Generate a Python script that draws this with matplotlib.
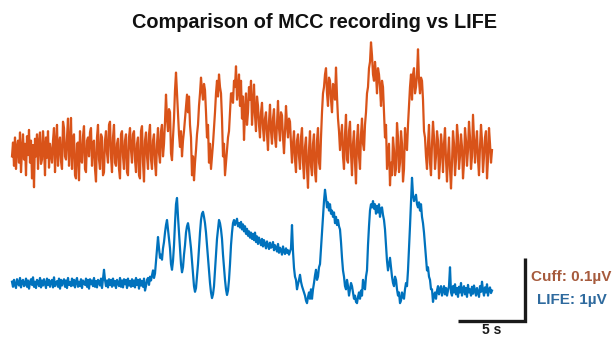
import numpy as np
import matplotlib
matplotlib.use("Agg")
import matplotlib.pyplot as plt

plt.rcParams['font.family'] = ['Liberation Sans', 'DejaVu Sans']

# Sample interval of both recordings (s)
dt = 0.075

# Cuff (MCC) recording, nV
cuff_nv = [
    -10, 12, -25, 20, -30, 5, 15, -20, 28, -35, 0, 25, -15, 10, -40, 22, -8, 32, -20, 15,
    -45, 8, -59, 18, -10, 25, -30, 12, 28, -22, -15, 30, 5, -40, 20, -12, 30, -28, 10, -5,
    -20, 15, 35, -35, 8, 40, -25, 10, 20, -18, -30, 45, 35, -10, -15, 20, 50, -25, 5, 51,
    -30, 18, 25, -40, -45, 10, 12, -48, 30, -15, -20, 22, 38, -30, -35, 15, 20, -10, 28, 35,
    -25, 10, 15, -30, -50, 20, 40, -15, -30, 25, 20, -40, -35, 15, 30, -5, -20, 40, 45, -10,
    -35, 20, 40, -20, -25, 10, 18, -30, -45, 25, 30, -10, -30, 15, 25, -35, -40, 20, 35, 0,
    -20, 25, 30, -15, -35, 10, 20, -40, -45, 30, 38, -20, -50, 15, 28, -10, -30, 25, 40, -15,
    -30, 15, 25, -20, -40, 10, 35, -5, -20, 30, 40, -10, 10, 45, 88, 50, 30, 65, 60, -5,
    -16, 20, 50, 95, 123, 90, 60, 25, 5, 30, -10, 15, 30, 50, 70, 88, 60, 85, 40, 20,
    -40, -10, -48, -20, 0, 25, 40, 70, 90, 115, 95, 80, 105, 95, 60, 20, 40, -20, 10, -30,
    -10, 10, 35, 60, 90, 110, 85, 120, 100, 90, 50, -10, 10, -40, -20, 0, 20, 30, 60, 90,
    90, 75, 110, 100, 133, 80, 95, 120, 70, 110, 50, 85, 16, 60, 90, 40, 60, 100, 80, 110,
    40, 70, 104, 55, 30, 85, 70, 40, 20, 60, 75, 35, 15, 50, 60, 25, 0, 45, 72, 30,
    10, 50, 65, 20, 5, 40, 78, 35, 15, 60, 55, 20, -5, 30, 70, 40, 20, 50, 45, 10,
    -20, 10, 30, -15, -35, 15, 25, -10, -30, 20, 35, -20, -45, 5, 20, -30, -60, 0, 30, -25,
    -40, 10, 25, -35, -50, 15, 35, -20, -30, 20, 60, 90, 100, 120, 130, 90, 70, 115, 110, 80,
    60, 105, 100, 80, 131, 85, 50, 30, 0, 20, 40, -10, -30, 25, 56, -15, -20, 30, 45, -5,
    -40, 10, 30, -20, -53, 15, 40, -10, -30, 25, 50, 10, 0, 40, 60, 90, 100, 130, 140, 171,
    150, 120, 110, 140, 120, 90, 130, 120, 100, 70, 110, 100, 60, 20, 40, -30, -10, 10, -56, -20,
    -40, 20, 0, -40, -30, 43, 20, -35, -20, 30, 10, -50, -30, 35, 10, 0, 40, 70, 100, 120,
    80, 120, 130, 90, 100, 120, 160, 110, 90, 115, 110, 80, 30, 20, -10, -30, 10, 40, -20, -40,
    10, 45, 20, -30, -10, 30, 15, -45, -20, 25, 5, -35, 10, 35, -15, -50, -10, 20, -30, -61,
    -20, 30, 10, -40, -15, 40, 20, -30, -10, 25, 5, -45, -20, 35, 15, -25, 0, 45, 20, -30,
    -10, 56, 20, -20, 10, 30, -15, -40, 5, 40, 15, -35, -10, 20, 30, -45, -15, 35, 10, -20,
    0,
]

# LIFE recording, µV
life_uv = [
    0.02, -0.06, 0.05, -0.03, -0.08, 0.06, 0.00, -0.04, 0.08, -0.07, 0.03, 0.05, -0.05, -0.02, 0.07, -0.06, 0.04, -0.09, 0.01, 0.06,
    -0.03, 0.09, -0.06, 0.02, -0.08, 0.05, 0.03, -0.05, 0.08, -0.07, 0.04, -0.04, 0.06, -0.01, -0.08, 0.07, -0.03, 0.05, -0.06, 0.02,
    0.05, -0.07, 0.09, -0.05, 0.00, 0.03, -0.06, 0.07, -0.09, 0.05, -0.04, 0.02, 0.06, -0.06, 0.04, -0.08, 0.08, -0.03, 0.01, -0.05,
    0.07, -0.04, 0.05, -0.07, 0.03, 0.08, -0.06, 0.02, -0.05, 0.06, -0.08, 0.04, 0.00, -0.03, 0.07, -0.06, 0.05, -0.09, 0.06, -0.02,
    0.04, -0.05, 0.08, -0.06, 0.03, -0.07, 0.05, 0.02, -0.04, 0.07, -0.08, 0.06, 0.21, 0.05, -0.05, 0.04, -0.07, 0.06, -0.03, 0.05,
    -0.06, 0.07, -0.04, 0.03, -0.08, 0.05, 0.00, -0.05, 0.08, -0.06, 0.04, -0.07, 0.06, -0.02, 0.05, -0.08, 0.07, -0.04, 0.03, -0.06,
    0.06, -0.05, 0.04, -0.07, 0.08, -0.03, 0.05, -0.09, 0.06, -0.04, 0.03, -0.06, 0.07, -0.12, -0.05, 0.05, 0.08, -0.03, 0.10, 0.04,
    0.12, 0.20, 0.08, 0.15, 0.35, 0.55, 0.73, 0.55, 0.40, 0.45, 0.37, 0.55, 0.65, 0.80, 0.92, 1.00, 0.85, 0.70, 0.55, 0.30,
    0.21, 0.35, 0.60, 0.95, 1.25, 1.35, 1.05, 0.80, 0.55, 0.30, 0.17, 0.25, 0.45, 0.60, 0.80, 0.90, 0.95, 0.85, 0.70, 0.55,
    0.35, 0.15, -0.05, -0.14, -0.08, 0.10, 0.30, 0.55, 0.80, 1.00, 1.10, 1.13, 1.05, 0.95, 0.80, 0.60, 0.40, 0.20, 0.00, -0.15,
    -0.24, -0.18, -0.05, 0.20, 0.45, 0.70, 0.85, 1.00, 0.95, 0.85, 0.70, 0.45, 0.25, 0.05, -0.10, -0.19, -0.12, 0.05, 0.30, 0.60,
    0.80, 0.95, 1.00, 0.92, 0.97, 1.02, 0.90, 0.95, 0.88, 0.97, 0.85, 0.93, 0.82, 0.90, 0.78, 0.86, 0.75, 0.82, 0.72, 0.80,
    0.70, 0.78, 0.68, 0.80, 0.65, 0.74, 0.62, 0.72, 0.66, 0.60, 0.70, 0.58, 0.68, 0.62, 0.55, 0.66, 0.60, 0.54, 0.64, 0.56,
    0.58, 0.65, 0.52, 0.60, 0.56, 0.50, 0.62, 0.48, 0.56, 0.52, 0.45, 0.58, 0.50, 0.46, 0.55, 0.48, 0.52, 0.45, 0.50, 0.55,
    0.92, 0.50, 0.24, 0.10, 0.05, -0.10, -0.02, 0.05, 0.13, 0.02, -0.05, -0.10, -0.15, -0.20, -0.28, -0.32, -0.22, -0.15, -0.25, -0.10,
    -0.25, -0.10, 0.00, 0.12, 0.21, 0.05, 0.10, 0.25, 0.30, 0.55, 0.80, 1.05, 1.30, 1.48, 1.35, 1.20, 1.28, 1.15, 1.25, 1.10,
    1.15, 1.05, 1.12, 0.95, 1.05, 0.92, 1.00, 0.90, 0.85, 0.65, 0.40, 0.20, 0.10, -0.05, -0.10, 0.05, -0.05, -0.20, -0.10, 0.00,
    -0.05, -0.15, -0.25, -0.20, -0.30, -0.32, -0.22, -0.15, -0.25, -0.12, -0.20, 0.05, -0.05, -0.10, 0.10, 0.20, 0.60, 0.90, 1.15, 1.25,
    1.20, 1.30, 1.18, 1.25, 1.10, 1.22, 1.12, 1.25, 1.05, 1.18, 1.20, 1.08, 1.00, 0.85, 0.60, 0.35, 0.20, 0.30, 0.40, 0.25,
    0.10, 0.00, -0.05, 0.10, 0.05, -0.10, -0.20, -0.15, -0.32, -0.28, -0.15, -0.22, -0.25, -0.10, 0.00, -0.05, 0.20, 0.55, 0.90, 1.30,
    1.67, 1.40, 1.30, 1.35, 1.40, 1.25, 1.20, 1.28, 1.15, 1.25, 1.05, 0.95, 0.80, 0.60, 0.40, 0.20, 0.25, 0.10, 0.05, -0.10,
    -0.10, -0.30, -0.20, -0.15, -0.25, -0.12, -0.05, -0.18, -0.10, -0.05, -0.20, -0.12, -0.05, -0.18, -0.08, -0.20, -0.12, -0.05, 0.25, -0.15,
    -0.20, -0.05, -0.15, -0.02, -0.18, -0.08, -0.22, -0.06, -0.15, 0.00, -0.20, -0.10, -0.05, -0.18, -0.08, -0.22, -0.03, -0.15, -0.10, -0.20,
    -0.06, -0.17, -0.04, -0.12, -0.20, -0.08, -0.15, -0.22, -0.05, -0.14, 0.02, -0.12, -0.20, -0.07, -0.15, -0.02, -0.20, -0.10, -0.07, -0.16,
    -0.12,
]

title = "Comparison of MCC recording vs LIFE"
cuff_label = "Cuff: 0.1µV"
life_label = "LIFE: 1µV"
time_label = "5 s"
time_bar_s = 5.0
cuff_bar_uv = 0.1
life_bar_uv = 1.0

cuff_color = "#D95319"
life_color = "#0072BD"

fig = plt.figure(figsize=(6.14, 3.38), dpi=100)
ax = fig.add_axes([0, 0, 1, 1])
ax.axis("off")

t_cuff = np.arange(len(cuff_nv)) * dt
t_life = np.arange(len(life_uv)) * dt

# Each trace is drawn in units of its own vertical scale bar
cuff_offset = 2.11
cuff_y = cuff_offset + np.asarray(cuff_nv) / 1000.0 / cuff_bar_uv
life_y = np.asarray(life_uv) / life_bar_uv

ax.plot(t_cuff, cuff_y, color=cuff_color, lw=1.6, solid_joinstyle="round")
ax.plot(t_life, life_y, color=life_color, lw=1.6, solid_joinstyle="round")

ax.set_xlim(-0.9, 45.15)
ax.set_ylim(-0.873, 4.492)

# L-shaped scale bar
bx, by = 33.45, -0.603
ax.plot([bx, bx + time_bar_s, bx + time_bar_s], [by, by, by + 1.0],
        color="#1a1a1a", lw=2.4, solid_joinstyle="miter", solid_capstyle="butt")
ax.text(bx + time_bar_s / 2, by - 0.03, time_label, ha="center", va="top",
        fontsize=10, fontweight="bold", color="#1a1a1a")
ax.text(38.93, 0.095, cuff_label, ha="left", va="center",
        fontsize=11, fontweight="bold", color="#A65A3C")
ax.text(39.38, -0.27, life_label, ha="left", va="center",
        fontsize=11, fontweight="bold", color="#2E6A9E")

fig.text(314 / 614, 1 - 23 / 338, title, ha="center", va="center",
         fontsize=14.3, fontweight="bold", color="#111111")

fig.savefig("out.png", dpi=100)
